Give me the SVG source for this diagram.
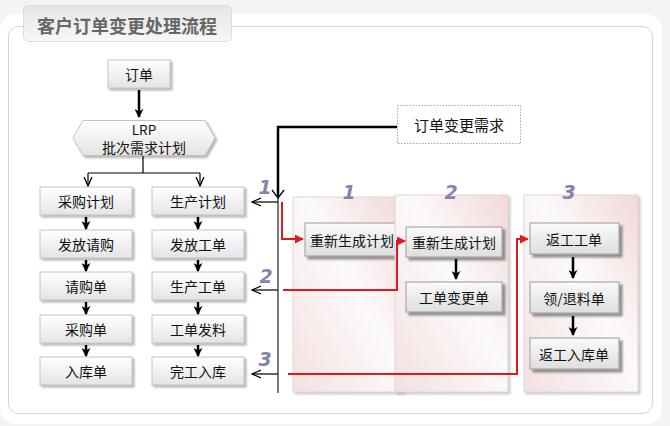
<svg xmlns="http://www.w3.org/2000/svg" width="670" height="426" viewBox="0 0 670 426">
<defs>
<style>
.t{font-family:"Noto Sans CJK SC","Liberation Sans",sans-serif;font-size:14px;fill:#111;text-anchor:middle;dominant-baseline:central}
.box{fill:url(#bg);stroke:#c4c4c4;stroke-width:1;filter:url(#sh)}
.pbox{fill:url(#pg);stroke:#a9a9a9;stroke-width:1.2;filter:url(#sh2)}
.thick{stroke:#000;stroke-width:2.5;fill:none;marker-end:url(#ah)}
.thin{stroke:#000;stroke-width:1.2;fill:none;marker-end:url(#ao)}
.red{stroke:#e01a1a;stroke-width:2;fill:none;marker-end:url(#ar)}
.num{font-family:"DejaVu Sans",sans-serif;font-weight:bold;font-style:italic;font-size:19px;fill:#8684ad;text-anchor:middle}
.panel{fill:url(#pnl);stroke:#e2d6d6;stroke-width:1;filter:url(#sh3)}
</style>
<linearGradient id="bg" x1="0" y1="0" x2="0" y2="1"><stop offset="0" stop-color="#ffffff"/><stop offset="1" stop-color="#e4e4e4"/></linearGradient>
<linearGradient id="pg" x1="0" y1="0" x2="0" y2="1"><stop offset="0" stop-color="#fafafa"/><stop offset="1" stop-color="#dedede"/></linearGradient>
<linearGradient id="tab" x1="0" y1="0" x2="0" y2="1"><stop offset="0" stop-color="#e6e6e6"/><stop offset="1" stop-color="#f7f7f7"/></linearGradient>
<linearGradient id="pnl" x1="1" y1="0" x2="0" y2="1"><stop offset="0" stop-color="#f2d8d8"/><stop offset="0.45" stop-color="#fdfafa"/><stop offset="1" stop-color="#f3e0e0"/></linearGradient>
<filter id="sh" x="-10%" y="-10%" width="130%" height="150%"><feDropShadow dx="2" dy="2" stdDeviation="1" flood-color="#777" flood-opacity="0.55"/></filter>
<filter id="sh2" x="-10%" y="-10%" width="130%" height="150%"><feDropShadow dx="3" dy="3" stdDeviation="0.8" flood-color="#666" flood-opacity="0.7"/></filter>
<filter id="sh3" x="-5%" y="-5%" width="115%" height="115%"><feDropShadow dx="2" dy="2" stdDeviation="1.2" flood-color="#999" flood-opacity="0.5"/></filter>
<marker id="ah" viewBox="0 0 10 10" refX="9" refY="5" markerWidth="9" markerHeight="9" markerUnits="userSpaceOnUse" orient="auto"><path d="M0,0 L10,5 L0,10 L3,5 z" fill="#000"/></marker>
<marker id="ao" viewBox="0 0 10 10" refX="9" refY="5" markerWidth="10" markerHeight="10" markerUnits="userSpaceOnUse" orient="auto"><path d="M0,1 L9,5 L0,9" fill="none" stroke="#000" stroke-width="1.3"/></marker>
<marker id="ar" viewBox="0 0 10 10" refX="9" refY="5" markerWidth="9" markerHeight="9" markerUnits="userSpaceOnUse" orient="auto"><path d="M0,0 L10,5 L0,10 z" fill="#e01a1a"/></marker>
</defs>
<rect width="670" height="426" fill="#f4f4f4"/>
<rect x="0" y="14" width="662" height="410" rx="16" fill="#ffffff"/>
<rect x="8.5" y="26.5" width="644" height="387" rx="10" fill="#ffffff" stroke="#d4d4d4"/>
<g id="title">
<rect x="23.5" y="5.5" width="208" height="36" rx="5" fill="url(#tab)" stroke="#dcdcdc"/>
<text x="127" y="25" style="font-family:'Noto Sans CJK SC','Liberation Sans',sans-serif;font-size:18px;font-weight:bold;fill:#666;text-anchor:middle;dominant-baseline:central">客户订单变更处理流程</text>
</g>
<g id="panels">
<rect class="panel" x="293" y="197" width="110" height="195"/>
<rect class="panel" x="524" y="195" width="114" height="197"/>
</g>
<g id="n-order"><rect class="box" x="108" y="60" width="62" height="28"/><text class="t" x="139" y="74">订单</text></g>
<g id="n-lrp"><path class="box" d="M73,138 L83,120.5 L205,120.5 L215,138 L205,155.5 L83,155.5 z"/><text class="t" x="144" y="128.5" style="font-size:13.5px">LRP</text><text class="t" x="144" y="147">批次需求计划</text></g>
<g id="n-cg1"><rect class="box" x="40" y="187" width="92" height="28"/><text class="t" x="86" y="201">采购计划</text></g>
<g id="n-cg2"><rect class="box" x="40" y="230" width="92" height="28"/><text class="t" x="86" y="244">发放请购</text></g>
<g id="n-cg3"><rect class="box" x="40" y="272" width="92" height="28"/><text class="t" x="86" y="286">请购单</text></g>
<g id="n-cg4"><rect class="box" x="40" y="315" width="92" height="28"/><text class="t" x="86" y="329">采购单</text></g>
<g id="n-cg5"><rect class="box" x="40" y="357" width="92" height="28"/><text class="t" x="86" y="371">入库单</text></g>
<g id="n-sc1"><rect class="box" x="152" y="187" width="92" height="28"/><text class="t" x="198" y="201">生产计划</text></g>
<g id="n-sc2"><rect class="box" x="152" y="230" width="92" height="28"/><text class="t" x="198" y="244">发放工单</text></g>
<g id="n-sc3"><rect class="box" x="152" y="272" width="92" height="28"/><text class="t" x="198" y="286">生产工单</text></g>
<g id="n-sc4"><rect class="box" x="152" y="315" width="92" height="28"/><text class="t" x="198" y="329">工单发料</text></g>
<g id="n-sc5"><rect class="box" x="152" y="357" width="92" height="28"/><text class="t" x="198" y="371">完工入库</text></g>
<g id="n-req"><rect x="397.5" y="105.5" width="123" height="38" fill="#fff" stroke="#aaa" stroke-dasharray="1.5,1.5"/><text class="t" x="459" y="124" style="font-size:15px">订单变更需求</text></g>
<g id="n-p1"><rect class="pbox" x="305" y="223" width="96" height="33"/><text class="t" x="352" y="239.5">重新生成计划</text></g>
<g id="panel2"><rect class="panel" x="395" y="195" width="113" height="197"/></g>
<g id="n-p2a"><rect class="pbox" x="406" y="227" width="96" height="30"/><text class="t" x="454" y="242">重新生成计划</text></g>
<g id="n-p2b"><rect class="pbox" x="406" y="282" width="96" height="30"/><text class="t" x="454" y="297">工单变更单</text></g>
<g id="n-p3a"><rect class="pbox" x="530" y="223" width="89" height="31"/><text class="t" x="574" y="238.5">返工工单</text></g>
<g id="n-p3b"><rect class="pbox" x="530" y="282" width="89" height="31"/><text class="t" x="574" y="297.5">领/退料单</text></g>
<g id="n-p3c"><rect class="pbox" x="530" y="338" width="89" height="31"/><text class="t" x="574" y="353.5">返工入库单</text></g>
<g id="labels">
<text class="num" x="265" y="194">1</text>
<text class="num" x="266" y="283">2</text>
<text class="num" x="265" y="366">3</text>
<text class="num" x="349" y="199">1</text>
<text class="num" x="451" y="199">2</text>
<text class="num" x="569" y="199">3</text>
</g>
<g id="connectors">
<line x1="139" y1="90" x2="139" y2="117" class="thick"/>
<path d="M143,156 V173 M88,173 H200" stroke="#000" stroke-width="1.2" fill="none"/>
<line x1="88" y1="173" x2="88" y2="186" class="thin"/>
<line x1="200" y1="173" x2="200" y2="186" class="thin"/>
<line x1="86" y1="217" x2="86" y2="229" class="thick"/>
<line x1="86" y1="260" x2="86" y2="271" class="thick"/>
<line x1="86" y1="302" x2="86" y2="314" class="thick"/>
<line x1="86" y1="345" x2="86" y2="356" class="thick"/>
<line x1="198" y1="217" x2="198" y2="229" class="thick"/>
<line x1="198" y1="260" x2="198" y2="271" class="thick"/>
<line x1="198" y1="302" x2="198" y2="314" class="thick"/>
<line x1="198" y1="345" x2="198" y2="356" class="thick"/>
<line x1="278" y1="176" x2="278" y2="393" stroke="#7a7a7a" stroke-width="2"/>
<path d="M397,127 H278 V196" stroke="#000" stroke-width="2.5" fill="none"/>
<path d="M272,190 L278,198 L284,190" stroke="#000" stroke-width="1.3" fill="none"/>
<line x1="278" y1="202" x2="252" y2="202" class="thin"/>
<line x1="278" y1="290" x2="252" y2="290" class="thin"/>
<line x1="278" y1="374" x2="252" y2="374" class="thin"/>
<path d="M282,202 V239 H303" class="red"/>
<path d="M283,290 H397 V241 H405" class="red"/>
<path d="M288,374 H517 V239 H528" class="red"/>
<line x1="456" y1="259" x2="456" y2="279" class="thick"/>
<line x1="573" y1="257" x2="573" y2="278" class="thick"/>
<line x1="573" y1="316" x2="573" y2="335" class="thick"/>
</g>
</svg>
